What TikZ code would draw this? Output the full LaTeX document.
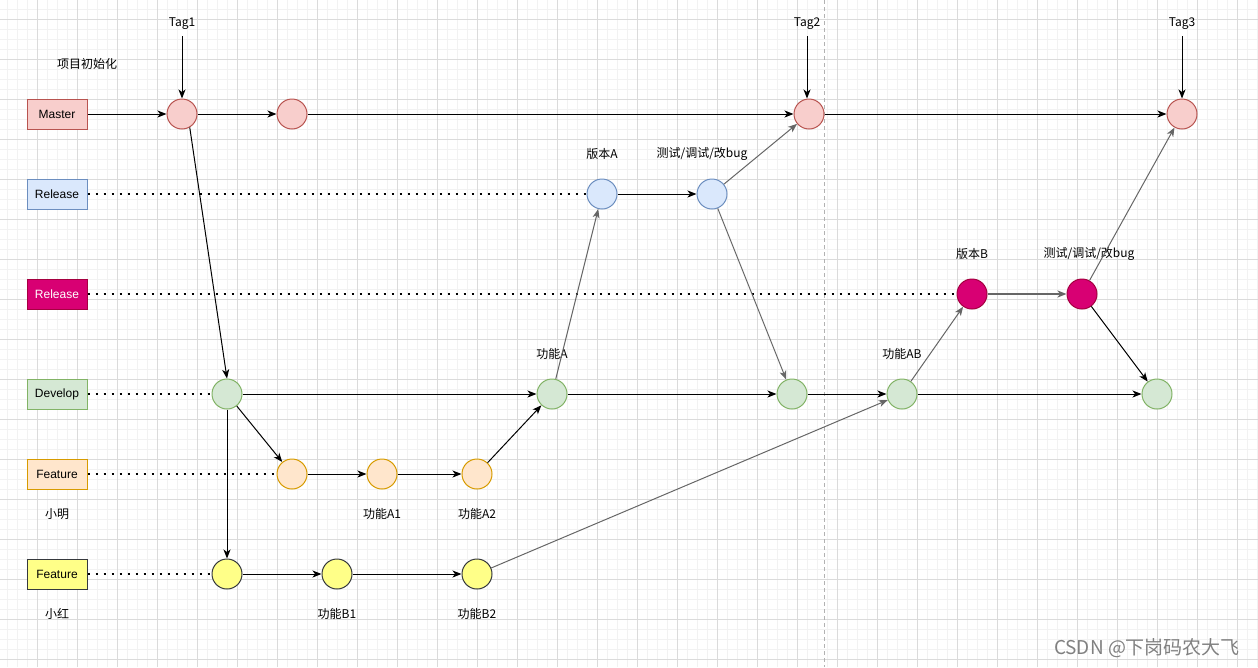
\documentclass[tikz,border=0pt]{standalone}
\usepackage{fontspec}
\setmainfont{Liberation Sans}
\newfontfamily\cjk{Noto Sans CJK SC}
\usepackage{xcolor}
\usetikzlibrary{arrows.meta,positioning}

\definecolor{redfill}{HTML}{F8CECC}
\definecolor{redline}{HTML}{B85450}
\definecolor{bluefill}{HTML}{DAE8FC}
\definecolor{blueline}{HTML}{6C8EBF}
\definecolor{pinkfill}{HTML}{D80073}
\definecolor{pinkline}{HTML}{A50040}
\definecolor{greenfill}{HTML}{D5E8D4}
\definecolor{greenline}{HTML}{82B366}
\definecolor{orangefill}{HTML}{FFE6CC}
\definecolor{orangeline}{HTML}{D79B00}
\definecolor{yellowfill}{HTML}{FFFF88}
\definecolor{yellowline}{HTML}{36393D}

\begin{document}
\begin{tikzpicture}[
  x=1pt, y=-1pt,
  font=\fontsize{12}{14}\selectfont,
  lane/.style={draw, line width=1pt, minimum width=60pt, minimum height=30pt, inner sep=0pt},
  commit/.style={circle, draw, line width=1pt, minimum size=30pt, inner sep=0pt},
  txt/.style={inner sep=1pt, font=\cjk\fontsize{12}{14}\selectfont},
  link/.style={-{Stealth[length=9pt,width=7pt,inset=2.5pt]}, line width=1pt},
  glink/.style={link, draw=black!60},
  dots/.style={line width=2pt, dash pattern=on 2pt off 6pt}
]
\useasboundingbox (0,0) rectangle (1258,667);
% background grid
\foreach \x in {7,17,...,1257} \draw[black!5, line width=0.6pt] (\x,0) -- (\x,667);
\foreach \y in {9,19,...,659} \draw[black!5, line width=0.6pt] (0,\y) -- (1258,\y);
\foreach \x in {37,77,...,1237} \draw[black!14, line width=0.8pt] (\x,0) -- (\x,667);
\foreach \y in {19,59,...,659} \draw[black!14, line width=0.8pt] (0,\y) -- (1258,\y);
\draw[black!30, line width=0.8pt, dash pattern=on 4pt off 3pt] (824,0) -- (824,667);

% branch boxes
\node[lane, fill=redfill, draw=redline] (master) at (57,114) {Master};
\node[lane, fill=bluefill, draw=blueline] (relA) at (57,194) {Release};
\node[lane, fill=pinkfill, draw=pinkline, text=white] (relB) at (57,294) {Release};
\node[lane, fill=greenfill, draw=greenline] (dev) at (57,394) {Develop};
\node[lane, fill=orangefill, draw=orangeline] (featA) at (57,474) {Feature};
\node[lane, fill=yellowfill, draw=yellowline] (featB) at (57,574) {Feature};

% commits
\node[commit, fill=redfill, draw=redline] (m1) at (182,114) {};
\node[commit, fill=redfill, draw=redline] (m2) at (292,114) {};
\node[commit, fill=redfill, draw=redline] (m3) at (809,114) {};
\node[commit, fill=redfill, draw=redline] (m4) at (1182,114) {};
\node[commit, fill=bluefill, draw=blueline] (ra1) at (602,194) {};
\node[commit, fill=bluefill, draw=blueline] (ra2) at (712,194) {};
\node[commit, fill=pinkfill, draw=pinkline] (rb1) at (972,294) {};
\node[commit, fill=pinkfill, draw=pinkline] (rb2) at (1082,294) {};
\node[commit, fill=greenfill, draw=greenline] (d1) at (227,394) {};
\node[commit, fill=greenfill, draw=greenline] (d2) at (552,394) {};
\node[commit, fill=greenfill, draw=greenline] (d3) at (792,394) {};
\node[commit, fill=greenfill, draw=greenline] (d4) at (902,394) {};
\node[commit, fill=greenfill, draw=greenline] (d5) at (1157,394) {};
\node[commit, fill=orangefill, draw=orangeline] (fa1) at (292,474) {};
\node[commit, fill=orangefill, draw=orangeline] (fa2) at (382,474) {};
\node[commit, fill=orangefill, draw=orangeline] (fa3) at (477,474) {};
\node[commit, fill=yellowfill, draw=yellowline] (fb1) at (227,574) {};
\node[commit, fill=yellowfill, draw=yellowline] (fb2) at (337,574) {};
\node[commit, fill=yellowfill, draw=yellowline] (fb3) at (477,574) {};

% labels
\node[txt] (tag1) at (182,24) {Tag1};
\node[txt] (tag2) at (807,24) {Tag2};
\node[txt] (tag3) at (1182,24) {Tag3};
\node[txt] (init) at (87,64) {项目初始化};
\node[txt] (verA) at (602,154) {版本A};
\node[txt] (testA) at (702,154) {测试/调试/改bug};
\node[txt] (verB) at (972,254) {版本B};
\node[txt] (testB) at (1089,254) {测试/调试/改bug};
\node[txt] (fnA) at (552,354) {功能A};
\node[txt] (fnAB) at (902,354) {功能AB};
\node[txt] (ming) at (57,514) {小明};
\node[txt] (hong) at (57,614) {小红};
\node[txt] (fnA1) at (382,514) {功能A1};
\node[txt] (fnA2) at (477,514) {功能A2};
\node[txt] (fnB1) at (337,614) {功能B1};
\node[txt] (fnB2) at (477,614) {功能B2};
\node[text=black!50, font=\cjk\fontsize{19}{21}\selectfont] (mark) at (1147,648) {CSDN @下岗码农大飞};

% tags
\draw[link, shorten <=5pt] (tag1) -- (m1);
\draw[link, shorten <=5pt] (tag2) -- (tag2 |- m3.north);
\draw[link, shorten <=5pt] (tag3) -- (m4);

% master
\draw[link] (master) -- (m1);
\draw[link] (m1) -- (m2);
\draw[link] (m2) -- (m3);
\draw[link] (m3) -- (m4);
\draw[link] (m1.-60) -- (d1.north);

% dotted lanes
\draw[dots] (relA) -- (ra1);
\draw[dots] (relB) -- (rb1);
\draw[dots] (dev) -- (d1);
\draw[dots] (featA) -- (fa1);
\draw[dots] (featB) -- (fb1);

% release A
\draw[link] (ra1) -- (ra2);
\draw[glink] (ra2) -- (m3);
\draw[glink] (ra2) -- (d3);

% release B
\draw[glink, line width=1.6pt] (rb1) -- (rb2);
\draw[glink] (rb2) -- (m4);
\draw[link] (rb2) -- (d5);

% develop
\draw[link] (d1) -- (d2);
\draw[link] (d1) -- (fa1);
\draw[link] (d1) -- (fb1);
\draw[glink] (d2) -- (ra1);
\draw[link] (d2) -- (d3);
\draw[link] (d3) -- (d4);
\draw[link] (d4) -- (d5);
\draw[glink] (d4) -- (rb1);

% features
\draw[link] (fa1) -- (fa2);
\draw[link] (fa2) -- (fa3);
\draw[link] (fa3) -- (d2);
\draw[link] (fb1) -- (fb2);
\draw[link] (fb2) -- (fb3);
\draw[glink] (fb3) -- (d4);
\end{tikzpicture}
\end{document}
